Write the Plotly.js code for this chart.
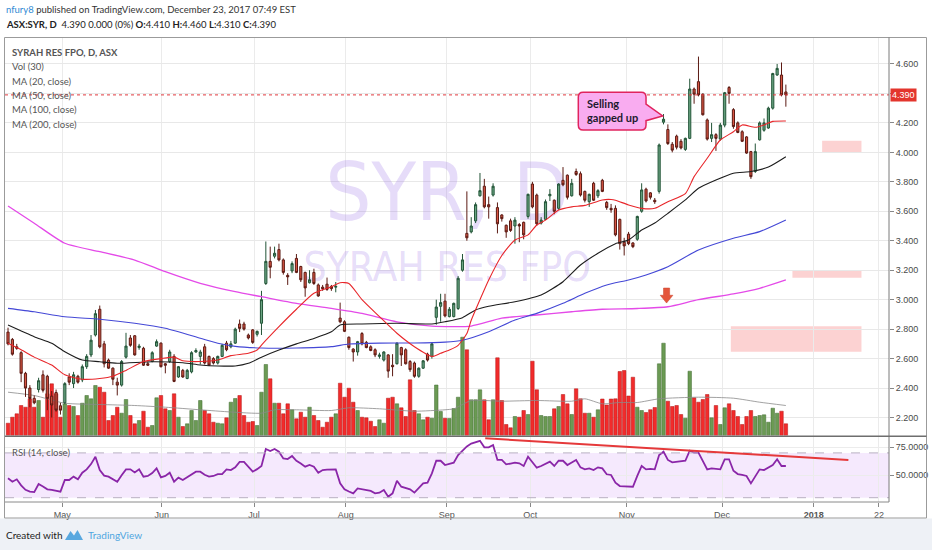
<!DOCTYPE html>
<html><head><meta charset="utf-8">
<script src="https://cdn.plot.ly/plotly-3.0.1.min.js"></script>
<style>html,body{margin:0;padding:0;background:#fff;}#chart{width:932px;height:550px;}</style>
</head><body><div id="chart"></div>
<script>
// ---------- DATA (daily bars, index 0 = first visible bar) ----------
const priceOpen = [
2.78,2.73,2.68,2.64,2.50,2.40,2.33,2.39,2.49,2.48,
2.345,2.37,2.28,2.30,2.475,2.43,2.48,2.455,2.545,2.625,
2.76,2.935,2.70,2.59,2.535,2.44,2.42,2.61,2.74,2.755,
2.675,2.67,2.565,2.58,2.685,2.705,2.565,2.58,2.615,2.475,
2.52,2.465,2.51,2.645,2.615,2.68,2.615,2.60,2.57,2.615,
2.705,2.68,2.705,2.835,2.835,2.76,2.795,2.765,2.84,3.11,
3.26,3.295,3.34,3.27,3.165,3.195,3.28,3.225,3.185,3.115,
3.185,3.10,3.085,3.105,3.09,3.085,2.875,2.85,2.745,2.665,
2.645,2.77,2.71,2.68,2.66,2.615,2.59,2.625,2.555,2.565,
2.675,2.66,2.58,2.57,2.48,2.535,2.63,2.615,2.88,2.955,
2.99,2.885,2.885,2.94,3.20,3.45,3.46,3.535,3.705,3.77,
3.645,3.71,3.625,3.575,3.505,3.535,3.50,3.51,3.525,3.565,
3.785,3.71,3.52,3.545,3.705,3.675,3.62,3.81,3.845,3.705,
3.87,3.855,3.735,3.665,3.79,3.705,3.81,3.66,3.62,3.62,
3.545,3.39,3.445,3.385,3.41,3.60,3.75,3.725,3.675,3.735,
4.205,4.155,4.055,4.11,4.075,4.02,4.095,4.43,4.48,4.395,
4.22,4.095,4.12,4.09,4.185,4.44,4.29,4.20,4.14,4.105,
4.005,3.87,4.085,4.15,4.165,4.30,4.525,4.525,4.41];
const priceHigh = [
2.81,2.74,2.70,2.65,2.51,2.42,2.35,2.47,2.52,2.49,
2.38,2.39,2.30,2.44,2.50,2.51,2.49,2.56,2.63,2.76,
2.93,2.96,2.72,2.60,2.54,2.47,2.59,2.775,2.76,2.76,
2.70,2.68,2.58,2.65,2.73,2.71,2.57,2.66,2.63,2.55,
2.53,2.53,2.65,2.67,2.66,2.70,2.62,2.61,2.62,2.70,
2.72,2.72,2.81,2.865,2.85,2.77,2.80,2.79,3.06,3.395,
3.36,3.36,3.38,3.28,3.18,3.26,3.31,3.23,3.19,3.20,
3.21,3.11,3.10,3.15,3.10,3.12,2.98,2.86,2.75,2.67,
2.72,2.78,2.72,2.69,2.67,2.64,2.65,2.63,2.63,2.71,
2.68,2.67,2.59,2.58,2.54,2.59,2.64,2.71,3.00,3.04,
3.04,2.95,2.98,3.16,3.31,3.735,3.56,3.66,3.86,3.82,
3.70,3.79,3.66,3.58,3.51,3.55,3.56,3.52,3.53,3.72,
3.80,3.72,3.56,3.68,3.75,3.68,3.79,3.90,3.85,3.82,
3.89,3.87,3.74,3.72,3.80,3.75,3.82,3.67,3.65,3.64,
3.55,3.42,3.46,3.39,3.57,3.79,3.76,3.73,3.69,4.06,
4.26,4.19,4.07,4.12,4.09,4.10,4.50,4.44,4.65,4.40,
4.23,4.20,4.13,4.20,4.41,4.45,4.30,4.21,4.15,4.11,
4.01,4.06,4.21,4.23,4.31,4.54,4.60,4.61,4.46];
const priceLow = [
2.69,2.62,2.66,2.44,2.34,2.27,2.29,2.37,2.37,2.25,
2.20,2.24,2.22,2.29,2.42,2.40,2.43,2.44,2.53,2.61,
2.75,2.67,2.54,2.53,2.42,2.35,2.41,2.60,2.68,2.62,
2.66,2.55,2.55,2.575,2.68,2.54,2.50,2.57,2.44,2.47,
2.47,2.46,2.50,2.64,2.56,2.56,2.55,2.56,2.56,2.61,
2.65,2.67,2.70,2.78,2.79,2.73,2.70,2.75,2.76,3.10,
3.145,3.28,3.26,3.17,3.10,3.18,3.18,3.12,3.02,3.11,
3.10,3.02,3.06,3.06,3.06,3.05,2.84,2.78,2.66,2.58,
2.62,2.69,2.67,2.65,2.61,2.60,2.58,2.47,2.48,2.56,
2.55,2.56,2.51,2.47,2.47,2.53,2.58,2.60,2.83,2.85,
2.88,2.88,2.88,2.93,3.19,3.40,3.45,3.52,3.70,3.62,
3.55,3.70,3.45,3.53,3.42,3.46,3.38,3.39,3.41,3.55,
3.62,3.50,3.51,3.54,3.67,3.58,3.61,3.77,3.68,3.70,
3.84,3.70,3.66,3.63,3.67,3.69,3.73,3.61,3.59,3.43,
3.34,3.30,3.37,3.35,3.40,3.59,3.66,3.68,3.65,3.72,
4.19,4.05,4.00,4.02,4.02,4.01,4.09,4.33,4.38,4.25,
4.08,4.07,4.01,4.08,4.17,4.33,4.16,4.13,4.07,3.99,
3.82,3.86,4.08,4.14,4.16,4.29,4.52,4.38,4.31];
const priceClose = [
2.70,2.63,2.67,2.50,2.40,2.33,2.30,2.45,2.385,2.33,
2.285,2.25,2.25,2.43,2.44,2.49,2.44,2.545,2.615,2.725,
2.905,2.68,2.565,2.535,2.46,2.42,2.58,2.685,2.69,2.625,
2.685,2.555,2.555,2.64,2.715,2.545,2.555,2.645,2.445,2.545,
2.475,2.52,2.64,2.655,2.645,2.57,2.555,2.57,2.615,2.69,
2.66,2.70,2.80,2.805,2.80,2.74,2.71,2.785,3.00,3.26,
3.22,3.315,3.27,3.185,3.155,3.245,3.185,3.135,3.08,3.135,
3.11,3.025,3.075,3.07,3.075,3.09,2.85,2.785,2.675,2.645,
2.715,2.70,2.675,2.655,2.625,2.625,2.645,2.515,2.545,2.705,
2.625,2.565,2.525,2.48,2.535,2.585,2.59,2.70,2.95,2.98,
2.89,2.935,2.975,3.145,3.27,3.42,3.50,3.645,3.74,3.63,
3.63,3.77,3.515,3.55,3.46,3.47,3.54,3.50,3.44,3.715,
3.63,3.515,3.54,3.665,3.715,3.60,3.785,3.78,3.695,3.79,
3.85,3.71,3.675,3.715,3.675,3.74,3.735,3.625,3.61,3.44,
3.38,3.365,3.38,3.36,3.565,3.745,3.67,3.695,3.665,4.05,
4.225,4.06,4.015,4.035,4.03,4.095,4.43,4.395,4.39,4.255,
4.09,4.12,4.095,4.185,4.405,4.40,4.175,4.135,4.075,3.995,
3.835,4.005,4.20,4.20,4.30,4.535,4.57,4.39,4.39];
const volume = [
12.3,18.3,21.7,30,28.3,36.7,28.3,35,18.3,41.7,
51.7,41.7,18.3,31.7,30,29,20,32.3,40,36.7,
50,48.3,43.3,15,20,28.3,22.3,36,20,11.7,
15,24.3,8.3,10,37.7,40,26.7,25,41.7,18.3,
9,11.7,25,15,35,25,21.7,13.3,12.3,11.7,
17.7,33.3,37,40,20,13.3,14,10,43.3,71,
56.7,32.3,32.3,21.7,31.7,25.7,16.7,23.3,18.3,28.3,
20,15,8.3,13.3,18.3,21.7,52.3,38.3,47.3,33.3,
25,18.3,17.7,14.3,9,15.7,12.3,37.3,38.3,31.7,
27.7,19,55.7,25,21.7,15.7,18.3,17.3,50.5,24,
17.2,17,27,38.3,98.3,85.7,35.7,35.7,45.7,35.7,
15.7,35.7,77.7,35,11,7.7,19,18.3,25,21,
74.3,45.7,20,19,19,26.7,29,41,31.7,21,
46.7,36.7,22.3,22.3,18.3,25.7,36.5,30.5,36.5,36.7,
64,65,39.5,58.3,28.3,25,23,25.8,28,71.7,
92.3,34.3,29,30,21,17.3,64.3,37.7,33.3,36,
41,17.7,30,11,27.7,31.7,25,19,11,19,
25,19,20,20.7,13.3,27.3,22.3,24.3,11.7];
const rsi14 = [
47.3,44.3,46.4,41,37,35.4,35,42.2,40,37.5,
37,36.4,35.4,45.8,45.8,48.8,46.4,52.3,55.3,60,
66.6,54.7,49.7,48.8,46.5,44.3,50,55.3,55.3,52.6,
55.3,48.8,49.4,52,56.2,48.2,49.4,52.3,44.3,47.9,
45.8,48.2,51,53.2,53.2,50.5,48.8,49.4,51.1,51.1,
55.3,54.7,57.1,61.9,61.9,57.7,53.2,55.5,58.3,73.5,
71.7,73.5,71.1,65.1,64.5,67.2,63,60.5,57.7,59.2,
57.7,52.3,54.7,55,55.2,55.3,42.8,37.5,35.5,33.9,
38.3,37.5,36.8,36,33.9,34.5,36.9,30.9,33.9,45.2,
39.8,38.5,37.5,34.5,38.5,42.8,43.4,51.7,63,63,
59.2,60.2,61.3,68.1,72,75.8,78.3,79.5,80.8,75,
75,77.1,63.7,63.7,59.8,60.5,61.3,60.7,58.3,66.6,
61.3,56.8,58.3,60.2,62.2,58.3,63,63,59.2,61.5,
63.7,57.1,55.3,56.2,54.7,57.1,56.2,50.9,50.3,43.4,
40.4,40.2,40.2,39.8,49.4,58.3,55.3,55.8,55.3,68.1,
71.1,63.7,61.6,61.9,62.2,63,72,70.2,70.2,62.5,
55.3,56.2,55.8,55.3,64.3,64.3,54.1,51.1,50.3,49.4,
42.8,49,55.3,54.7,57,59.2,64.3,58.3,58.3];

// moving averages (bar index, value)
const ma20Bar = [0,3,6,10,13,17,21,24,27,31,35,38,40,44,48,51,55,57,58,62,66,70,74,76,78,81,85,89,93,97,99,101,103,105,106,108,110,113,116,119,121,123,126,129,132,136,138,139,142,145,148,151,155,157,160,163,166,168,171,173,175,178];
const ma20 = [2.704,2.66,2.61,2.556,2.49,2.46,2.465,2.48,2.52,2.58,2.60,2.61,2.585,2.58,2.59,2.62,2.636,2.658,2.692,2.817,2.935,3.043,3.088,3.115,3.11,3.0,2.885,2.772,2.681,2.615,2.636,2.658,2.69,2.77,2.86,3.0,3.134,3.30,3.405,3.44,3.507,3.54,3.609,3.63,3.64,3.677,3.68,3.675,3.643,3.62,3.62,3.665,3.72,3.835,3.96,4.084,4.14,4.186,4.17,4.186,4.21,4.213];
const ma50Bar = [0,6,10,13,17,21,25,33,40,44,48,52,55,58,62,66,70,74,76,81,89,97,100,104,107,110,116,122,127,131,135,139,142,145,148,151,155,158,162,166,170,174,178];
const ma50 = [2.828,2.749,2.704,2.647,2.59,2.579,2.568,2.579,2.572,2.557,2.55,2.55,2.568,2.61,2.658,2.70,2.737,2.782,2.828,2.835,2.84,2.835,2.85,2.878,2.93,2.955,2.986,3.032,3.122,3.235,3.315,3.38,3.405,3.473,3.52,3.586,3.677,3.756,3.812,3.858,3.87,3.9,3.97];
const ma100Bar = [0,6,13,21,29,36,44,48,52,58,66,74,78,85,93,100,104,110,116,121,127,132,137,142,146,151,158,166,172,178];
const ma100 = [2.941,2.918,2.884,2.867,2.84,2.806,2.738,2.704,2.683,2.672,2.672,2.681,2.699,2.705,2.706,2.712,2.725,2.783,2.862,2.907,2.975,3.043,3.1,3.134,3.168,3.224,3.337,3.417,3.462,3.541];
const ma200Bar = [0,6,13,21,29,36,44,52,58,66,74,81,89,97,106,113,121,129,136,144,151,158,166,172,178];
const ma200 = [3.636,3.519,3.383,3.326,3.269,3.19,3.111,3.054,3.02,2.975,2.941,2.907,2.85,2.821,2.821,2.874,2.896,2.918,2.935,2.94,2.952,3.0,3.039,3.077,3.134];
const volMaBar = [0,6,13,21,29,36,44,51,58,61,66,74,78,85,93,100,102,104,106,113,121,129,132,136,140,144,149,158,166,172,178];
const volMa = [43.3,40,32.3,31,30,28.3,25.7,23.5,22.3,25.7,25.7,25,27.7,26.7,24.3,25.7,26.7,31,35,34.3,35,34.3,36.7,31.7,33,33,36.7,38.3,37.3,33.3,30];

// time axis labels (bar positions incl. projected future bars)
const tickBars = [12.4,35.2,56.3,77.3,100.4,119.5,141.6,163.4,184.4,199.3];
const tickLabels = ['May','Jun','Jul','Aug','Sep','Oct','Nov','Dec','<b>2018</b>','22'];
const priceTicks = [2.2,2.4,2.6,2.8,3.0,3.2,3.4,3.6,3.8,4.0,4.2,4.4,4.6];
const rsiTicks = [50,75];
const legendLines = ['<b>SYRAH RES FPO, D, ASX</b>','Vol (30)','MA (20, close)','MA (50, close)','MA (100, close)','MA (200, close)'];
// user drawings
const supplyZones = [[186.3,195.3,4.003,4.078],[179.5,195.3,3.148,3.20],[165.4,195.3,2.647,2.82]];
const rsiTrend = {x0:109.2, y0:83.0, x1:192.3, y1:63.7};
const noteText = 'Selling<br>gapped up';

// ---------- BUILD ----------
const N = priceClose.length;
const bars = priceClose.map((_, i) => i);
const last = N - 1;
const up = priceClose.map((c, i) => c >= priceOpen[i]);
const PX = px => (px - 5) / 884;
const PY = py => (502 - py) / 465;
const FONT = 'Lato, "Open Sans", sans-serif';
const AXF = '"Liberation Sans", Arial, sans-serif';
const f3 = v => v.toFixed(3);
const lastClose = priceClose[last];

const traces = [
  {type:'bar', x:bars, y:volume, yaxis:'y', width:0.8,
   marker:{color:up.map(u=>u?'#6b9a54':'#f22b2b'), line:{width:0.5, color:up.map(u=>u?'#3e6b2e':'#b01515')}}},
  {type:'scatter', mode:'lines', x:volMaBar, y:volMa, yaxis:'y', line:{color:'#8a8a8a', width:0.8, shape:'spline', smoothing:0.6}},
  {type:'scatter', mode:'text', x:[100.5,100.5], y:[235.5,164.5], yaxis:'y',
   text:['SYR, D','SYRAH RES FPO'], textposition:'middle center',
   textfont:{family:'"Liberation Sans Narrow","DejaVu Sans Condensed","Liberation Sans",Arial,sans-serif', size:[81,40.5], color:'rgba(150,110,230,0.24)'}},
  {type:'candlestick', x:bars, open:priceOpen, high:priceHigh, low:priceLow, close:priceClose, yaxis:'y2',
   increasing:{line:{color:'#225437', width:1}, fillcolor:'#6ba583'},
   decreasing:{line:{color:'#5b1a13', width:1}, fillcolor:'#d75442'}, whiskerwidth:0},
  {type:'scatter', mode:'lines', x:ma200Bar, y:ma200, yaxis:'y2', line:{color:'#e44ae8', width:1.3, shape:'spline', smoothing:0.6}},
  {type:'scatter', mode:'lines', x:ma100Bar, y:ma100, yaxis:'y2', line:{color:'#4448d6', width:1.1, shape:'spline', smoothing:0.6}},
  {type:'scatter', mode:'lines', x:ma50Bar, y:ma50, yaxis:'y2', line:{color:'#1c1c1c', width:1.1, shape:'spline', smoothing:0.6}},
  {type:'scatter', mode:'lines', x:ma20Bar, y:ma20, yaxis:'y2', line:{color:'#e8262a', width:1.1, shape:'spline', smoothing:0.6}},
  {type:'scatter', mode:'lines', x:bars, y:rsi14, yaxis:'y3', line:{color:'#8a26a8', width:1.8}}
];

// callout path (data units)
const xL=130.5, xR=146.0, yT=4.408, yB=4.152, rx=1.1, ry=0.034;
const callout = `M ${xL+rx},${yT} L ${xR-rx},${yT} Q ${xR},${yT} ${xR},${yT-ry} L ${xR},4.328 L 149.8,4.247 L ${xR},4.215 L ${xR},${yB+ry} Q ${xR},${yB} ${xR-rx},${yB} L ${xL+rx},${yB} Q ${xL},${yB} ${xL},${yB+ry} L ${xL},${yT-ry} Q ${xL},${yT} ${xL+rx},${yT} Z`;
const arrow = 'M 150.0,3.079 L 151.4,3.079 L 151.4,3.03 L 152.15,3.03 L 150.7,2.977 L 149.25,3.03 L 150.0,3.03 Z';

const shapes = [
  {type:'rect', xref:'paper', yref:'paper', x0:PX(0), x1:PX(932), y0:PY(550), y1:PY(518.5), fillcolor:'#eef1f6', line:{width:0}, layer:'below'},
  {type:'rect', xref:'paper', yref:'y3', x0:0, x1:1, y0:30, y1:70, fillcolor:'rgba(190,120,240,0.16)', line:{width:0}, layer:'below'},
  {type:'line', xref:'paper', yref:'y3', x0:0, x1:1, y0:70, y1:70, line:{color:'#b9b0c2', width:1, dash:'dash'}},
  {type:'line', xref:'paper', yref:'y3', x0:0, x1:1, y0:30, y1:30, line:{color:'#b9b0c2', width:1, dash:'dash'}},
  ...supplyZones.map(z => ({type:'rect', xref:'x', yref:'y2', x0:z[0], x1:z[1], y0:z[2], y1:z[3], fillcolor:'#fcd2d2', line:{width:0}, layer:'below'})),
  {type:'line', xref:'paper', yref:'y2', x0:0, x1:1, y0:lastClose, y1:lastClose, line:{color:'#e0383e', width:1, dash:'dot'}},
  {type:'path', xref:'x', yref:'y2', path:arrow, fillcolor:'#e4553c', line:{color:'#c8432c', width:0.5}},
  {type:'path', xref:'x', yref:'y2', path:callout, fillcolor:'#f9acf0', line:{color:'#e0245e', width:1.5}},
  {type:'line', xref:'x', yref:'y3', x0:rsiTrend.x0, y0:rsiTrend.y0, x1:rsiTrend.x1, y1:rsiTrend.y1, line:{color:'#e5393a', width:2}},
  {type:'rect', xref:'paper', yref:'paper', x0:PX(4.5), x1:PX(926.5), y0:PY(518), y1:PY(37.5), line:{color:'#9b9b9b', width:1}},
  {type:'line', xref:'paper', yref:'paper', x0:1, x1:1, y0:0, y1:PY(37.5), line:{color:'#7a7a7a', width:1}},
  {type:'line', xref:'paper', yref:'paper', x0:0, x1:PX(926.5), y0:PY(436.3), y1:PY(436.3), line:{color:'#6e6e6e', width:1.5}},
  {type:'line', xref:'paper', yref:'paper', x0:0, x1:1, y0:0, y1:0, line:{color:'#8a8a8a', width:1}},
  {type:'path', xref:'paper', yref:'paper', path:`M ${PX(65)},${PY(540)} L ${PX(70.5)},${PY(531)} L ${PX(74)},${PY(535.5)} L ${PX(77.5)},${PY(530)} L ${PX(83)},${PY(540)} Z`, fillcolor:'#58a8df', line:{width:0}}
];

const chg = lastClose - priceClose[last-1];
const pct = Math.round(chg / priceClose[last-1] * 100);
const annotations = [
  {xref:'paper', yref:'paper', x:PX(4), y:PY(10), xanchor:'left', yanchor:'middle', showarrow:false,
   text:'<span style="color:#2f8ad4">nfury8</span> published on TradingView.com, December 23, 2017 07:49 EST',
   font:{family:FONT, size:9.5, color:'#333'}},
  {xref:'paper', yref:'paper', x:PX(4), y:PY(25), xanchor:'left', yanchor:'middle', showarrow:false,
   text:`<b>ASX:SYR, D</b>  ${f3(lastClose)} ${f3(chg)} (${pct}%) <b>O:</b>${f3(priceOpen[last])} <b>H:</b>${f3(priceHigh[last])} <b>L:</b>${f3(priceLow[last])} <b>C:</b>${f3(lastClose)}`,
   font:{family:FONT, size:9.5, color:'#222'}},
  ...legendLines.map((t, k) => ({xref:'paper', yref:'paper', x:PX(10), y:PY(52.3 + k*14.35), xanchor:'left', yanchor:'middle', showarrow:false,
   text:t, font:{family:FONT, size:9.5, color:'#555'}})),
  {xref:'paper', yref:'paper', x:PX(10), y:PY(452), xanchor:'left', yanchor:'middle', showarrow:false,
   text:'RSI (14, close)', font:{family:FONT, size:9.5, color:'#555'}},
  {xref:'paper', yref:'y2', x:1, y:lastClose, xanchor:'left', yanchor:'middle', xshift:1, showarrow:false,
   text:f3(lastClose), bgcolor:'#e3352d', borderpad:1, font:{family:AXF, size:9, color:'#fff'}},
  {xref:'x', yref:'y2', x:132.0, y:4.283, xanchor:'left', yanchor:'middle', showarrow:false, align:'left',
   text:'<b>'+noteText+'</b>', font:{family:FONT, size:11, color:'#1d1a2e'}},
  {xref:'paper', yref:'paper', x:PX(4), y:PY(535), xanchor:'left', yanchor:'middle', showarrow:false,
   text:'Created with', font:{family:FONT, size:10, color:'#222'}},
  {xref:'paper', yref:'paper', x:PX(86), y:PY(535), xanchor:'left', yanchor:'middle', showarrow:false,
   text:'TradingView', font:{family:FONT, size:10, color:'#4ea6e0'}}
];

const layout = {
  width:932, height:550, margin:{l:5, r:43, t:37, b:48},
  paper_bgcolor:'#fff', plot_bgcolor:'rgba(0,0,0,0)', showlegend:false, hovermode:false,
  font:{family:AXF, size:9, color:'#555'},
  xaxis:{anchor:'y3', range:[-0.69, 201.6], tickvals:tickBars, ticktext:tickLabels,
    ticks:'outside', ticklen:4, tickcolor:'#888', showgrid:true, gridcolor:'#ebebeb', zeroline:false,
    showline:false, rangeslider:{visible:false}, tickfont:{family:AXF, size:9, color:'#555'}},
  yaxis:{domain:[PY(435.5), 1], range:[0, 398.5], visible:false, fixedrange:true},
  yaxis2:{overlaying:'y', side:'right', anchor:'x', range:[2.078, 4.783], tickvals:priceTicks,
    ticktext:priceTicks.map(v => Math.abs(v - lastClose) < 0.05 ? '' : f3(v)),
    ticks:'outside', ticklen:4, tickcolor:'#888', showgrid:true, gridcolor:'#e8e8e8',
    zeroline:false, showline:false, tickfont:{family:AXF, size:9, color:'#4a4a4a'}},
  yaxis3:{domain:[0, PY(437)], side:'right', anchor:'x', range:[26.16, 84.2], tickvals:rsiTicks,
    ticktext:rsiTicks.map(v=>v.toFixed(4)), ticks:'outside', ticklen:4, tickcolor:'#888', showgrid:true, gridcolor:'#ececec',
    zeroline:false, showline:false, tickfont:{family:AXF, size:9, color:'#4a4a4a'}},
  shapes:shapes, annotations:annotations
};
Plotly.newPlot('chart', traces, layout, {displayModeBar:false, staticPlot:true});
</script></body></html>
